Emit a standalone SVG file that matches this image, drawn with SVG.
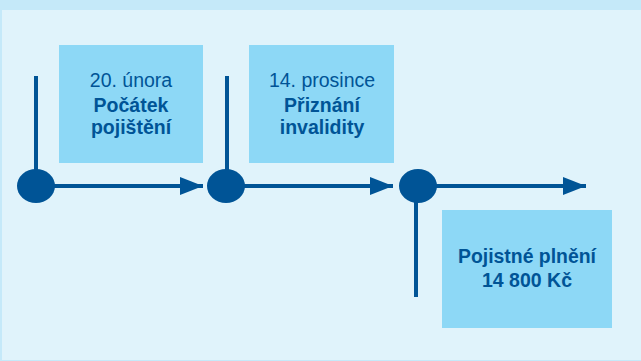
<svg xmlns="http://www.w3.org/2000/svg" width="641" height="361" viewBox="0 0 641 361">
<defs>
<marker id="ah" markerUnits="userSpaceOnUse" markerWidth="24" markerHeight="20" refX="23" refY="9" orient="auto">
<path d="M0,0 L23,9 L0,18 Z" fill="#005496"/>
</marker>
<style>
.box{fill:#8DD8F6}
.ln{stroke:#005496;stroke-width:4;fill:none}
.dot{fill:#005496}
text{font-family:"Liberation Sans",Arial,sans-serif;font-size:19.5px;fill:#005496;text-anchor:middle}
.b{font-weight:bold}
</style>
</defs>
<rect x="0" y="0" width="641" height="361" fill="#C5E9F9"/>
<rect x="2" y="10" width="639" height="350" fill="#E0F3FB"/>
<g id="connectors">
<line class="ln" x1="36" y1="76" x2="36" y2="186"/>
<line class="ln" x1="227" y1="76" x2="227" y2="186"/>
<line class="ln" x1="416" y1="186" x2="416" y2="297"/>
<line class="ln" x1="36" y1="186" x2="203" y2="186" marker-end="url(#ah)"/>
<line class="ln" x1="227" y1="186" x2="393" y2="186" marker-end="url(#ah)"/>
<line class="ln" x1="418" y1="186" x2="586" y2="186" marker-end="url(#ah)"/>
</g>
<g id="dot1"><ellipse class="dot" cx="36" cy="186" rx="19" ry="17"/></g>
<g id="dot2"><ellipse class="dot" cx="226" cy="186" rx="19" ry="17"/></g>
<g id="dot3"><ellipse class="dot" cx="418" cy="186" rx="19" ry="17"/></g>
<g id="box1">
<rect class="box" x="59" y="45" width="144" height="118"/>
<text x="131" y="87">20. února</text>
<text class="b" x="131" y="112">Počátek</text>
<text class="b" x="131" y="134">pojištění</text>
</g>
<g id="box2">
<rect class="box" x="249" y="45" width="145" height="118"/>
<text x="322" y="87">14. prosince</text>
<text class="b" x="322" y="112">Přiznání</text>
<text class="b" x="322" y="134">invalidity</text>
</g>
<g id="box3">
<rect class="box" x="442" y="210" width="170" height="118"/>
<text class="b" x="527" y="263" textLength="138" lengthAdjust="spacingAndGlyphs">Pojistné plnění</text>
<text class="b" x="527" y="287">14 800 Kč</text>
</g>
</svg>
